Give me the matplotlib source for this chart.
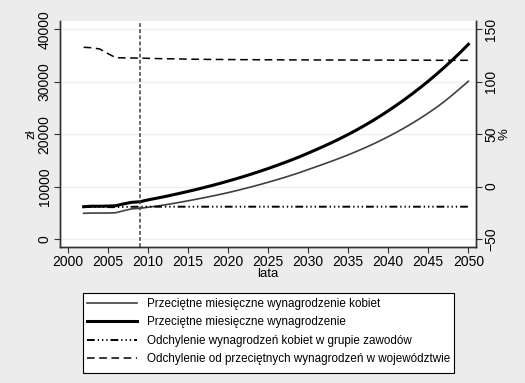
import matplotlib
matplotlib.use("Agg")
import matplotlib.pyplot as plt
from matplotlib.patches import Rectangle

plt.rcParams['font.family'] = ['Liberation Sans', 'DejaVu Sans']

years = list(range(2002, 2051))
wage_avg = [6160, 6250, 6250, 6280, 6350, 6700, 7000, 7100, 7450, 7750,
            8050, 8380, 8720, 9070, 9430, 9810, 10200, 10610, 11040, 11480,
            11940, 12420, 12920, 13440, 13980, 14540, 15120, 15730, 16380, 17040,
            17720, 18430, 19170, 19950, 20760, 21620, 22520, 23460, 24460, 25500,
            26580, 27710, 28890, 30120, 31410, 32760, 34160, 35620, 37150]
wage_women = [4900, 4950, 4950, 4950, 5000, 5400, 5750, 5850, 6050, 6250,
              6480, 6730, 7000, 7280, 7570, 7870, 8180, 8500, 8840, 9200,
              9580, 9980, 10390, 10820, 11260, 11720, 12200, 12700, 13250, 13780,
              14330, 14880, 15450, 16050, 16680, 17340, 18030, 18760, 19530, 20340,
              21190, 22090, 23040, 24040, 25100, 26230, 27480, 28780, 30100]
dev_group = [-19.5, -19.5, -19.5, -19.6, -19.6, -19.4, -19.3, -19.2, -19.2, -19.2,
             -19.2, -19.2, -19.2, -19.2, -19.2, -19.2, -19.2, -19.2, -19.2, -19.2,
             -19.2, -19.2, -19.2, -19.2, -19.2, -19.2, -19.2, -19.2, -19.2, -19.2,
             -19.2, -19.2, -19.2, -19.2, -19.2, -19.2, -19.2, -19.2, -19.2, -19.2,
             -19.2, -19.2, -19.2, -19.2, -19.2, -19.2, -19.2, -19.2, -19.2]
dev_region = [132.9, 132.5, 131.3, 127.0, 123.0, 122.8, 122.7, 122.6, 122.4, 122.2,
              122.0, 121.9, 121.8, 121.6, 121.5, 121.4, 121.3, 121.3, 121.2, 121.2,
              121.1, 121.1, 121.0, 121.0, 121.0, 120.9, 120.9, 120.9, 120.9, 120.8,
              120.8, 120.8, 120.8, 120.8, 120.7, 120.7, 120.7, 120.7, 120.7, 120.6,
              120.6, 120.6, 120.6, 120.6, 120.5, 120.5, 120.5, 120.5, 120.5]
labels = ["Przeciętne miesięczne wynagrodzenie kobiet",
          "Przeciętne miesięczne wynagrodzenie",
          "Odchylenie wynagrodzeń kobiet w grupie zawodów",
          "Odchylenie od przeciętnych wynagrodzeń w województwie"]
xticks = list(range(2000, 2051, 5))
yticks_left = [0, 10000, 20000, 30000, 40000]
yticks_right = [-50, 0, 50, 100, 150]
vline_year = 2009

W, H = 525, 383
bg = '#ececec'
fig = plt.figure(figsize=(W/100, H/100), dpi=100, facecolor=bg)
ax = fig.add_axes([60/W, 1-247/H, (476-60)/W, (247-21)/H])
ax.set_facecolor('white')
ax2 = ax.twinx()

ax.set_xlim(1999.05, 2050.95)
ax.set_ylim(-1530, 41600)
ax2.set_ylim(-1530/200 - 50, 41600/200 - 50)

for v in yticks_left:
    ax.axhline(v, color='#efefef', lw=1.0, zorder=0)

l1, = ax.plot(years, wage_women, color='#404040', lw=1.2)
l2, = ax.plot(years, wage_avg, color='black', lw=2.2)
l3, = ax2.plot(years, dev_group, color='black', lw=1.4,
               dashes=(4, 1.5, 0.7, 1.5, 0.7, 1.5, 0.7, 1.5))
l4, = ax2.plot(years, dev_region, color='black', lw=1.1, dashes=(5, 3))
ax.axvline(vline_year, color='#404040', lw=1.1, dashes=(2.5, 1.5))

ax.set_xticks(xticks)
ax.set_yticks(yticks_left)
ax2.set_yticks(yticks_right)
ax.tick_params(axis='both', labelsize=10, length=4, color='#303030', pad=2)
ax2.tick_params(axis='y', labelsize=10, length=4, color='#303030', pad=2)
for t in ax.get_yticklabels():
    t.set_rotation(90)
    t.set_va('center')
for t in ax2.get_yticklabels():
    t.set_rotation(90)
    t.set_va('center')

for a in (ax, ax2):
    a.spines['top'].set_visible(False)
    for s in ('left', 'right', 'bottom'):
        a.spines[s].set_color('#303030')
        a.spines[s].set_linewidth(1.0)

ax.set_xlabel('lata', fontsize=9.5, labelpad=-1)
ax.set_ylabel('zł', fontsize=9.5, labelpad=0)
ax2.set_ylabel('%', fontsize=9.5, labelpad=0, rotation=90)

# legend frame (drawn as a rectangle in figure pixels)
bx0, by0, bx1, by1 = 82.7, 293, 454.3, 373
fig.patches.append(Rectangle((bx0/W, 1-by1/H), (bx1-bx0)/W, (by1-by0)/H,
                             transform=fig.transFigure, facecolor='white',
                             edgecolor='black', lw=0.8, zorder=0))

fs = 8.4
hl_px = 50
ht_px = 146.7 - 137.3
fs_px = fs * 100 / 72
leg = fig.legend([l1, l2, l3, l4], labels, loc='center left',
                 bbox_to_anchor=(87.3/W, 1-331.5/H), borderaxespad=0,
                 fontsize=fs, frameon=False, borderpad=0,
                 handlelength=hl_px/fs_px, handletextpad=ht_px/fs_px,
                 labelspacing=0.55)

fig.canvas.draw()
r = fig.canvas.get_renderer()
txts = leg.get_texts()
th = txts[0].get_window_extent(r).height
target = (359 - 304) / 3
ls = (target - th) / fs_px
leg.set_visible(False)
leg = fig.legend([l1, l2, l3, l4], labels, loc='center left',
                 bbox_to_anchor=(87.3/W, 1-331.5/H), borderaxespad=0,
                 fontsize=fs, frameon=False, borderpad=0,
                 handlelength=hl_px/fs_px, handletextpad=ht_px/fs_px,
                 labelspacing=ls)

fig.savefig('out.png', dpi=100, facecolor=bg)
